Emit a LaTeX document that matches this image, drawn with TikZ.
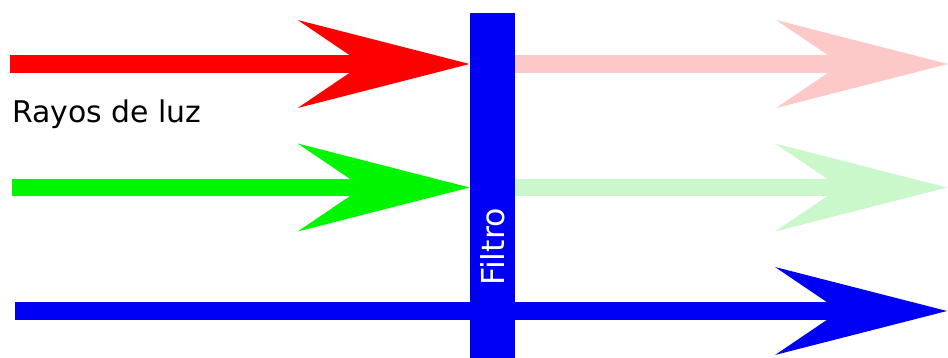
\documentclass[tikz,border=0pt]{standalone}
\usepackage{fontspec}
\setmainfont{DejaVu Sans}
\usepackage{tikz}
\usetikzlibrary{arrows.meta,positioning,calc}
\definecolor{rayred}{RGB}{255,0,0}
\definecolor{raygreen}{RGB}{0,245,0}
\definecolor{rayblue}{RGB}{0,0,245}
\definecolor{fadedred}{RGB}{252,200,200}
\definecolor{fadedgreen}{RGB}{202,248,202}

\begin{document}
\begin{tikzpicture}[
    x=0.02cm, y=-0.02cm,
    ray/.style={draw=#1, line width=0.36cm, -{Stealth[length=3.44cm, width=1.76cm, inset=1.3cm, line width=0pt]}},
    filterbar/.style={rectangle, fill=rayblue, minimum width=0.9cm, minimum height=6.9cm, inner sep=0pt},
    raytext/.style={font=\fontsize{17}{20}\selectfont, inner sep=0pt},
]
    \useasboundingbox (0,0) rectangle (948,358);

    % Filter bar
    \node[filterbar] (filtro) at (492.5,185.5) {};

    % Ray ends
    \coordinate (redin) at (10,64);
    \coordinate (greenin) at (12,187.5);
    \coordinate (bluein) at (15,311);
    \coordinate (redout) at (948,64);
    \coordinate (greenout) at (947,187.5);
    \coordinate (blueout) at (947,311);

    % Incoming rays
    \draw[ray=rayred] (redin) -- (filtro.west |- redin);
    \draw[ray=raygreen] (greenin) -- (filtro.west |- greenin);

    % Filtered rays
    \draw[ray=fadedred] (filtro.east |- redin) -- (redout);
    \draw[ray=fadedgreen] (filtro.east |- greenin) -- (greenout);
    \draw[ray=rayblue] (bluein) -- (blueout);

    % Labels
    \node[raytext, anchor=base west] (rayos) at (12,123) {Rayos de luz};
    \node[raytext, font=\fontsize{18}{20}\selectfont, text=white, rotate=90] (filtrotext) at (493,247) {Filtro};
\end{tikzpicture}
\end{document}
